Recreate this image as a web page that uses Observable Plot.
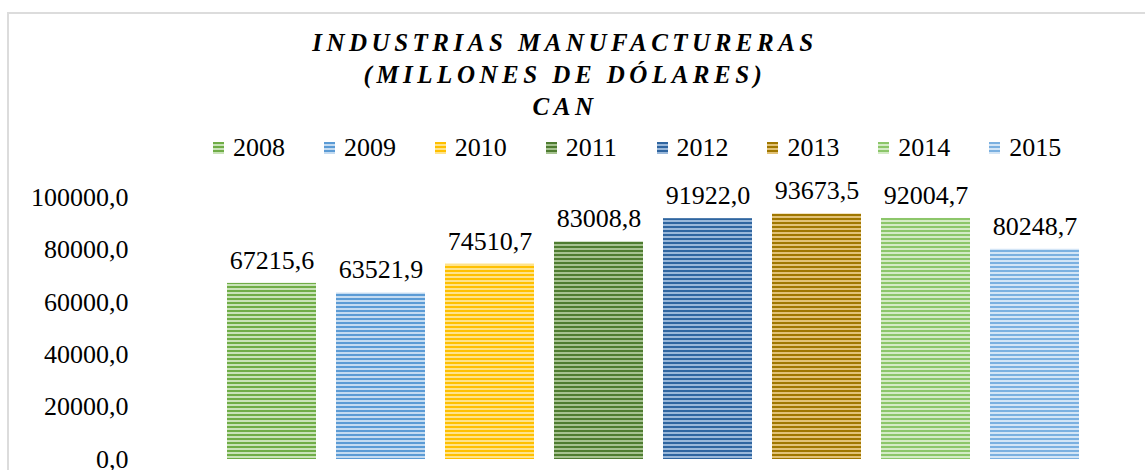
<!DOCTYPE html>
<html><head><meta charset="utf-8">
<script src="https://cdn.jsdelivr.net/npm/d3@7"></script>
<script src="https://cdn.jsdelivr.net/npm/@observablehq/plot@0.6"></script>
<style>
body{margin:0;background:#fff;width:1145px;height:470px;overflow:hidden;position:relative;font-family:"Liberation Serif",serif;color:#000;}
#frame{position:absolute;left:7px;top:12px;width:1150px;height:480px;border:2px solid #dcdcdc;box-sizing:border-box;}
#title{position:absolute;left:1px;top:27px;width:1128px;text-align:center;font-weight:bold;font-style:italic;font-size:25px;line-height:32px;letter-spacing:4.5px;font-family:"Liberation Serif",serif;}
#legend{position:absolute;left:213px;top:135px;display:flex;}
.item{width:110.9px;display:flex;align-items:center;font-size:26px;line-height:26px;}
.sw{width:11px;height:12px;margin-right:9px;display:block;}
#chart{position:absolute;left:0;top:170px;}
</style></head>
<body>
<div id="frame"></div>
<div id="title"></div>
<div id="legend"></div>
<div id="chart"></div>
<script>
const years = ["2008","2009","2010","2011","2012","2013","2014","2015"];
const values = [67215.6, 63521.9, 74510.7, 83008.8, 91922.0, 93673.5, 92004.7, 80248.7];
const stripeColors = ["#70AD47","#5B9BD5","#FFC000","#4E7C30","#2F65A0","#A07700","#8CC66A","#7BB0E0"];
const lightColors  = ["#C9E3B8","#C4DBF1","#FFE38A","#A6C290","#9AB8DA","#E2C277","#D4EBC6","#D3E5F6"];
const yTicks = [0, 20000, 40000, 60000, 80000, 100000];
const titleLines = ["INDUSTRIAS MANUFACTURERAS", "(MILLONES DE DÓLARES)", "CAN"];

const fmt = v => v.toFixed(1).replace(".", ",");
const serif = "'Liberation Serif', serif";

// pattern defs
const ns = "http://www.w3.org/2000/svg";
const defsSvg = document.createElementNS(ns, "svg");
defsSvg.setAttribute("width", 0); defsSvg.setAttribute("height", 0);
defsSvg.style.position = "absolute";
const defs = document.createElementNS(ns, "defs");
years.forEach((y, i) => {
  const p = document.createElementNS(ns, "pattern");
  p.setAttribute("id", "p" + y);
  p.setAttribute("patternUnits", "userSpaceOnUse");
  p.setAttribute("width", 8); p.setAttribute("height", 4);
  const r1 = document.createElementNS(ns, "rect");
  r1.setAttribute("width", 8); r1.setAttribute("height", 4); r1.setAttribute("fill", lightColors[i]);
  const r2 = document.createElementNS(ns, "rect");
  r2.setAttribute("width", 8); r2.setAttribute("height", 2); r2.setAttribute("fill", stripeColors[i]);
  p.appendChild(r1); p.appendChild(r2); defs.appendChild(p);
});
defsSvg.appendChild(defs);
document.body.appendChild(defsSvg);

// title
const title = document.getElementById("title");
titleLines.forEach(t => { const d = document.createElement("div"); d.textContent = t; title.appendChild(d); });

// legend
const legend = document.getElementById("legend");
years.forEach((y, i) => {
  const it = document.createElement("div"); it.className = "item";
  it.innerHTML = `<svg class="sw" width="11" height="12"><rect width="11" height="12" fill="url(#p${y})"/></svg><span>${y}</span>`;
  legend.appendChild(it);
});

const data = years.map((y, i) => ({year: y, value: values[i], fill: `url(#p${y})`}));

const plot = Plot.plot({
  width: 1145, height: 300,
  marginTop: 27, marginBottom: 11, marginLeft: 205, marginRight: 43,
  style: {fontFamily: serif, fontSize: "26px", color: "#000", background: "transparent", overflow: "visible"},
  x: {domain: years, padding: 0.18, axis: null},
  y: {domain: [0, 100000], ticks: yTicks, tickFormat: fmt, tickSize: 0, tickPadding: 77, label: null},
  color: {type: "identity"},
  marks: [
    Plot.barY(data, {x: "year", y: "value", fill: "fill"}),
    Plot.text(data, {x: "year", y: "value", text: d => fmt(d.value), dy: -23, fontSize: 26, fontFamily: serif, fill: "#000"})
  ]
});
document.getElementById("chart").appendChild(plot);
</script>
</body></html>
